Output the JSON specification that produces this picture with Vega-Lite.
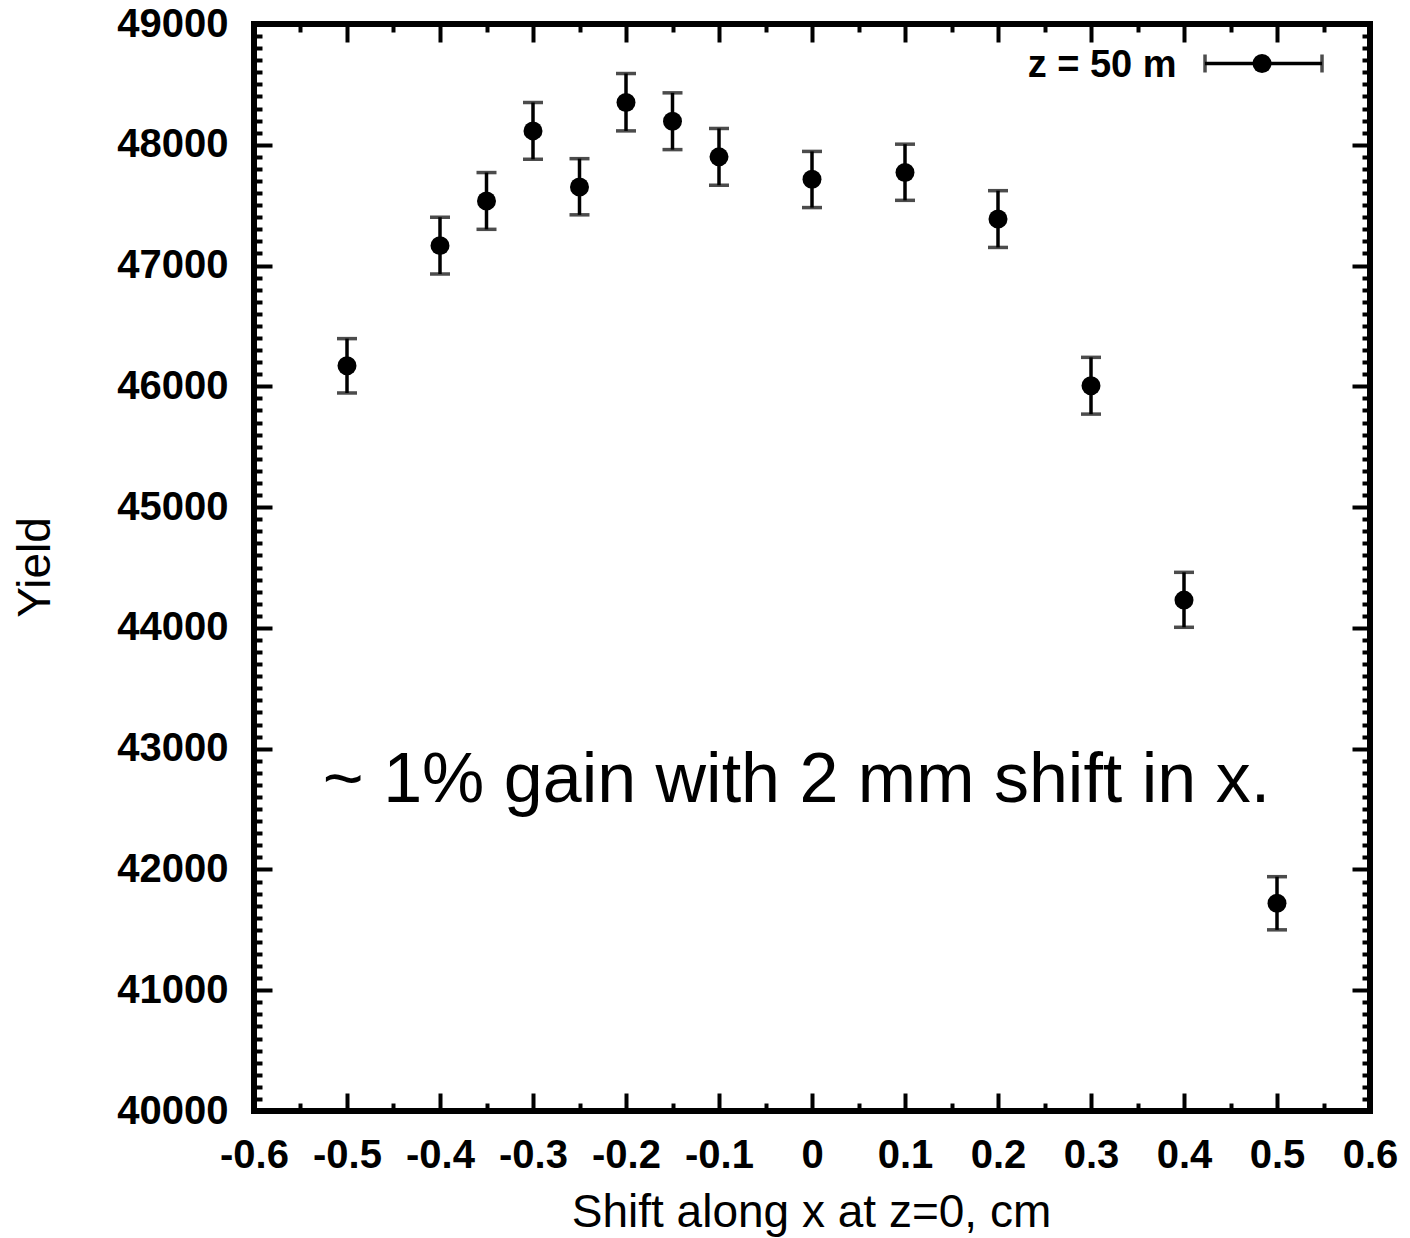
{
  "$schema": "https://vega.github.io/schema/vega-lite/v6.json",
  "width": 1116,
  "height": 1087,
  "autosize": "none",
  "padding": {"left": 254, "top": 24, "right": 40, "bottom": 127},
  "background": "white",
  "config": {
    "view": {"stroke": "black", "strokeWidth": 6},
    "font": "Liberation Sans"
  },
  "datasets": {
    "pts": [
      {"shift": -0.5, "yield": 46170, "lo": 45945, "hi": 46395},
      {"shift": -0.4, "yield": 47165, "lo": 46930, "hi": 47400},
      {"shift": -0.35, "yield": 47535, "lo": 47300, "hi": 47770},
      {"shift": -0.3, "yield": 48115, "lo": 47880, "hi": 48350},
      {"shift": -0.25, "yield": 47650, "lo": 47420, "hi": 47885},
      {"shift": -0.2, "yield": 48350, "lo": 48115, "hi": 48590},
      {"shift": -0.15, "yield": 48195, "lo": 47960, "hi": 48430},
      {"shift": -0.1, "yield": 47900, "lo": 47665, "hi": 48135},
      {"shift": 0, "yield": 47715, "lo": 47480, "hi": 47945},
      {"shift": 0.1, "yield": 47770, "lo": 47540, "hi": 48005},
      {"shift": 0.2, "yield": 47385, "lo": 47150, "hi": 47620},
      {"shift": 0.3, "yield": 46005, "lo": 45770, "hi": 46240},
      {"shift": 0.4, "yield": 44230, "lo": 44005, "hi": 44460},
      {"shift": 0.5, "yield": 41720, "lo": 41500, "hi": 41940}
    ],
    "legend": [
      {"label": "z = 50 m", "tx": 0.392, "lo": 0.4226, "hi": 0.5484, "px": 0.4839, "y": 48673, "ty": 48565}
    ],
    "note": [
      {"x": -0.526, "y": 42560, "text": "~ 1% gain with 2 mm shift in x."}
    ]
  },
  "resolve": {"axis": {"x": "independent", "y": "independent"}},
  "layer": [
    {
      "data": {"name": "pts"},
      "mark": {"type": "errorbar", "color": "black", "ticks": {"size": 20, "thickness": 3.5, "color": "black"}, "rule": {"strokeWidth": 3.5, "color": "black"}},
      "encoding": {
        "x": {
          "field": "shift", "type": "quantitative",
          "scale": {"domain": [-0.6, 0.6], "nice": false, "zero": false},
          "axis": {
            "orient": "bottom",
            "values": [-0.6, -0.55, -0.5, -0.45, -0.4, -0.35, -0.3, -0.25, -0.2, -0.15, -0.1, -0.05, 0, 0.05, 0.1, 0.15, 0.2, 0.25, 0.3, 0.35, 0.4, 0.45, 0.5, 0.55, 0.6],
            "domain": false, "grid": false,
            "tickSize": {"condition": {"test": "abs(datum.value*10 - round(datum.value*10)) < 0.01", "value": -18}, "value": -8},
            "tickWidth": 4, "tickColor": "black",
            "labelExpr": "abs(datum.value*10 - round(datum.value*10)) < 0.01 ? (abs(datum.value) < 0.001 ? '0' : replace(format(datum.value, '.1f'), '\u2212', '-')) : ''",
            "labelFontSize": 40, "labelFontWeight": "bold", "labelColor": "black",
            "labelPadding": 42, "labelBaseline": "top",
            "labelOverlap": false, "labelFlush": false, "labelBound": false,
            "title": "Shift along x at z=0, cm",
            "titleFontSize": 46, "titleFontWeight": "normal", "titleColor": "black",
            "titleBaseline": "alphabetic", "titleY": 115, "titleX": 557
          }
        },
        "y": {
          "field": "lo", "type": "quantitative",
          "scale": {"domain": [40000, 49000], "nice": false, "zero": false},
          "axis": {
            "orient": "left",
            "values": [40000, 40100, 40200, 40300, 40400, 40500, 40600, 40700, 40800, 40900, 41000, 41100, 41200, 41300, 41400, 41500, 41600, 41700, 41800, 41900, 42000, 42100, 42200, 42300, 42400, 42500, 42600, 42700, 42800, 42900, 43000, 43100, 43200, 43300, 43400, 43500, 43600, 43700, 43800, 43900, 44000, 44100, 44200, 44300, 44400, 44500, 44600, 44700, 44800, 44900, 45000, 45100, 45200, 45300, 45400, 45500, 45600, 45700, 45800, 45900, 46000, 46100, 46200, 46300, 46400, 46500, 46600, 46700, 46800, 46900, 47000, 47100, 47200, 47300, 47400, 47500, 47600, 47700, 47800, 47900, 48000, 48100, 48200, 48300, 48400, 48500, 48600, 48700, 48800, 48900, 49000],
            "domain": false, "grid": false,
            "tickSize": {"condition": {"test": "datum.value % 1000 === 0", "value": -18}, "value": -8},
            "tickWidth": 4, "tickColor": "black",
            "labelExpr": "datum.value % 1000 === 0 ? format(datum.value, 'd') : ''",
            "labelFontSize": 40, "labelFontWeight": "bold", "labelColor": "black",
            "labelPadding": 44, "labelBaseline": "middle",
            "labelOverlap": false, "labelFlush": false, "labelBound": false,
            "title": "Yield",
            "titleFontSize": 46, "titleFontWeight": "normal", "titleColor": "black",
            "titleAngle": 270, "titleBaseline": "alphabetic", "titleAlign": "center",
            "titleX": -205, "titleY": 543
          }
        },
        "y2": {"field": "hi"}
      }
    },
    {
      "data": {"name": "pts"},
      "mark": {"type": "point", "shape": "circle", "filled": true, "color": "black", "size": 360, "opacity": 1},
      "encoding": {
        "x": {
          "field": "shift", "type": "quantitative",
          "axis": {
            "orient": "top",
            "values": [-0.6, -0.55, -0.5, -0.45, -0.4, -0.35, -0.3, -0.25, -0.2, -0.15, -0.1, -0.05, 0, 0.05, 0.1, 0.15, 0.2, 0.25, 0.3, 0.35, 0.4, 0.45, 0.5, 0.55, 0.6],
            "domain": false, "grid": false, "labels": false, "title": null,
            "tickSize": {"condition": {"test": "abs(datum.value*10 - round(datum.value*10)) < 0.01", "value": -18}, "value": -8},
            "tickWidth": 4, "tickColor": "black"
          }
        },
        "y": {
          "field": "yield", "type": "quantitative",
          "axis": {
            "orient": "right",
            "values": [40000, 40100, 40200, 40300, 40400, 40500, 40600, 40700, 40800, 40900, 41000, 41100, 41200, 41300, 41400, 41500, 41600, 41700, 41800, 41900, 42000, 42100, 42200, 42300, 42400, 42500, 42600, 42700, 42800, 42900, 43000, 43100, 43200, 43300, 43400, 43500, 43600, 43700, 43800, 43900, 44000, 44100, 44200, 44300, 44400, 44500, 44600, 44700, 44800, 44900, 45000, 45100, 45200, 45300, 45400, 45500, 45600, 45700, 45800, 45900, 46000, 46100, 46200, 46300, 46400, 46500, 46600, 46700, 46800, 46900, 47000, 47100, 47200, 47300, 47400, 47500, 47600, 47700, 47800, 47900, 48000, 48100, 48200, 48300, 48400, 48500, 48600, 48700, 48800, 48900, 49000],
            "domain": false, "grid": false, "labels": false, "title": null,
            "tickSize": {"condition": {"test": "datum.value % 1000 === 0", "value": -18}, "value": -8},
            "tickWidth": 4, "tickColor": "black"
          }
        }
      }
    },
    {
      "data": {"name": "legend"},
      "mark": {"type": "errorbar", "color": "black", "ticks": {"size": 18, "thickness": 3.5, "color": "black"}, "rule": {"strokeWidth": 3.5, "color": "black"}},
      "encoding": {
        "x": {"field": "lo", "type": "quantitative", "axis": null},
        "x2": {"field": "hi"},
        "y": {"field": "y", "type": "quantitative", "axis": null}
      }
    },
    {
      "data": {"name": "legend"},
      "mark": {"type": "point", "shape": "circle", "filled": true, "color": "black", "size": 360, "opacity": 1},
      "encoding": {
        "x": {"field": "px", "type": "quantitative", "axis": null},
        "y": {"field": "y", "type": "quantitative", "axis": null}
      }
    },
    {
      "data": {"name": "legend"},
      "mark": {"type": "text", "align": "right", "baseline": "alphabetic", "fontSize": 38, "fontWeight": "bold", "color": "black"},
      "encoding": {
        "x": {"field": "tx", "type": "quantitative", "axis": null},
        "y": {"field": "ty", "type": "quantitative", "axis": null},
        "text": {"field": "label"}
      }
    },
    {
      "data": {"name": "note"},
      "mark": {"type": "text", "align": "left", "baseline": "alphabetic", "fontSize": 70, "color": "black"},
      "encoding": {
        "x": {"field": "x", "type": "quantitative", "axis": null},
        "y": {"field": "y", "type": "quantitative", "axis": null},
        "text": {"field": "text"}
      }
    }
  ]
}
